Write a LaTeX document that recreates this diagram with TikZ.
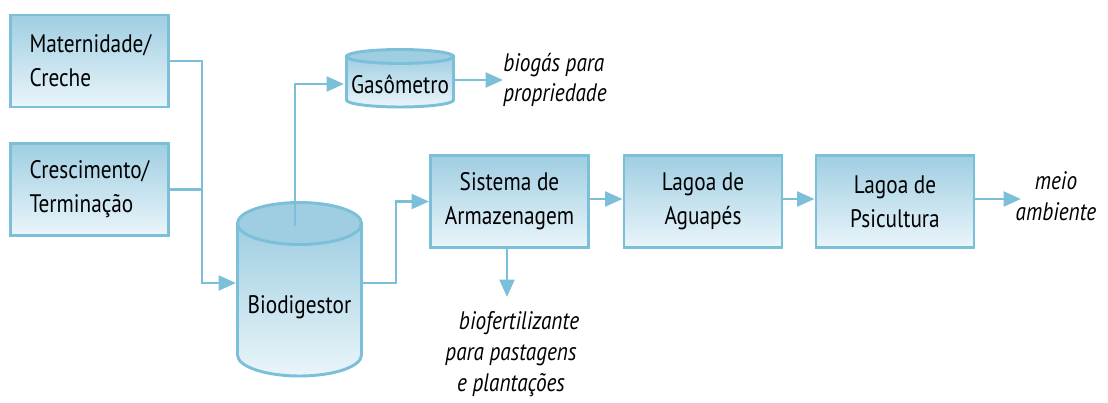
\documentclass[tikz,border=0pt]{standalone}
\usepackage{fontspec}
\setmainfont{PT Sans}[FakeStretch=0.84]
\usetikzlibrary{arrows.meta,calc}
\definecolor{ln}{HTML}{7BBFD9}
\definecolor{ftop}{HTML}{9FCEE2}
\definecolor{fbot}{HTML}{EAF5FA}
\begin{document}
\begin{tikzpicture}[x=0.75pt,y=-0.75pt,
  box/.style={draw=ln, line width=2.2pt, top color=ftop, bottom color=fbot,
    minimum width=118.5pt, minimum height=69pt, align=center, inner sep=0pt,
    font=\fontsize{19pt}{25.5pt}\selectfont},
  lbox/.style={box, text width=90pt, inner xsep=14pt, align=left},
  cyl/.style={draw=ln, line width=2.2pt, top color=ftop, bottom color=fbot},
  cyltop/.style={draw=ln, line width=2.2pt, fill=ftop},
  lab/.style={inner sep=0pt, font=\fontsize{19pt}{25.5pt}\selectfont},
  note/.style={inner sep=0pt, font=\fontsize{19pt}{23pt}\selectfont\itshape},
  conn/.style={draw=ln, line width=2.2pt},
  arr/.style={conn, -{Triangle[length=13pt,width=11pt]}}]
\useasboundingbox (0,0) rectangle (1108,403);

% left boxes
\node[lbox] (mat) at (89.5,61) {Maternidade/\\Creche};
\node[lbox] (cre) at (89.5,189.5) {Crescimento/\\Termina\c{c}\~ao};

% biodigestor cylinder
\path[cyl] (237.5,223.5) -- (237.5,355) arc[start angle=180, end angle=0, x radius=62, y radius=21] -- (361.5,223.5) -- cycle;
\path[cyltop] (299.5,223.5) ellipse [x radius=62, y radius=21];
\node[lab] (bio) at (299.5,307) {Biodigestor};

% gasometro cylinder
\path[cyl] (346.5,56.5) -- (346.5,100) arc[start angle=180, end angle=0, x radius=53.5, y radius=7] -- (453.5,56.5) -- cycle;
\path[cyltop] (400,56.5) ellipse [x radius=53.5, y radius=7];
\node[lab] (gas) at (400,84) {Gas\^ometro};

% process boxes
\node[box] (sis) at (509.5,201.5) {Sistema de\\Armazenagem};
\node[box] (agu) at (703,201.5) {Lagoa de\\Aguap\'es};
\node[box] (psi) at (895,201.5) {Lagoa de\\Psicultura};

% notes
\node[note, anchor=west, align=left] (biog) at (503,80) {biog\'as para\\propriedade};
\node[note, align=center] (fert) at (511,354) {\hspace*{12pt}biofertilizante\\para pastagens\\e planta\c{c}\~oes};
\node[note, align=center] (meio) at (1056,196) {meio\\ambiente};

% connector coordinates
\coordinate (jn) at (202,283);
\coordinate (bioIn) at (236,283);
\coordinate (bioTop) at (295,226);
\coordinate (gasIn) at (344,84);
\coordinate (gasOut) at (455,80);
\coordinate (bioOut) at (362,283);
\coordinate (k1) at (396,283);
\coordinate (fertIn) at (507,297);
\coordinate (meioIn) at (1021,199);

\draw[conn] (mat.east) -| (jn);
\draw[arr] (cre.east) -| (jn) -- (bioIn);
\draw[arr] (bioTop) |- (gasIn);
\draw[arr] (gasOut) -- (biog.west);
\draw[arr] (bioOut) -- (k1) |- (sis.west);
\draw[arr] ($(sis.east)+(0,-2.5)$) -- ($(agu.west)+(0,-2.5)$);
\draw[arr] ($(agu.east)+(0,-2.5)$) -- ($(psi.west)+(0,-2.5)$);
\draw[arr] (psi.east |- meioIn) -- (meioIn);
\draw[arr] (sis.south -| fertIn) -- (fertIn);
\end{tikzpicture}
\end{document}
